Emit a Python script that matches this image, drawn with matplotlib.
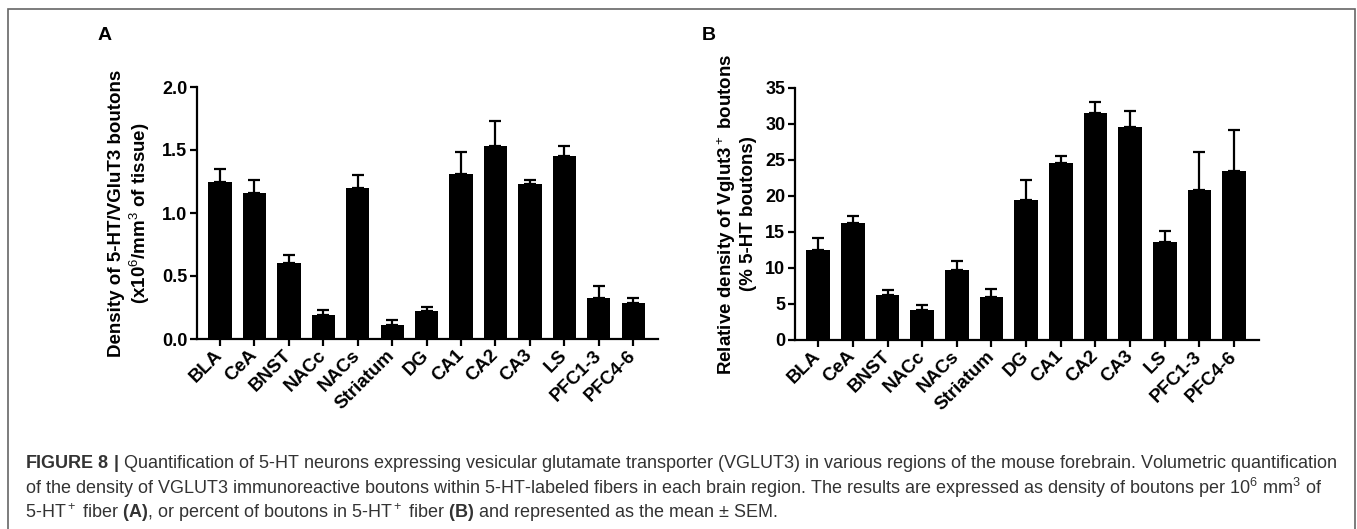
import matplotlib
matplotlib.use("Agg")
import matplotlib.pyplot as plt
from matplotlib.patches import Rectangle

plt.rcParams['font.family'] = ['Liberation Sans', 'DejaVu Sans']
plt.rcParams['mathtext.fontset'] = 'custom'
plt.rcParams['mathtext.rm'] = 'Liberation Sans'
plt.rcParams['mathtext.bf'] = 'Liberation Sans:bold'
plt.rcParams['mathtext.it'] = 'Liberation Sans:italic'

regions = ["BLA", "CeA", "BNST", "NACc", "NACs", "Striatum", "DG",
           "CA1", "CA2", "CA3", "LS", "PFC1-3", "PFC4-6"]

density_mean = [1.245, 1.158, 0.607, 0.193, 1.195, 0.113, 0.224,
                1.309, 1.528, 1.230, 1.449, 0.327, 0.285]
density_sem = [0.101, 0.106, 0.061, 0.039, 0.103, 0.037, 0.032,
               0.174, 0.200, 0.029, 0.079, 0.093, 0.037]

relative_mean = [12.45, 16.21, 6.29, 4.18, 9.69, 5.97, 19.48,
                 24.53, 31.56, 29.54, 13.60, 20.90, 23.52]
relative_sem = [1.65, 0.97, 0.69, 0.74, 1.24, 1.06, 2.80,
                1.01, 1.56, 2.20, 1.56, 5.28, 5.60]

yticks_a = [0.0, 0.5, 1.0, 1.5, 2.0]
yticks_b = [0, 5, 10, 15, 20, 25, 30, 35]

W, H = 1357, 529
fig = plt.figure(figsize=(W / 100, H / 100), dpi=100)

def fx(px):
    return px / W

def fy(py):
    return 1 - py / H

# figure border
fig.patches.append(Rectangle((fx(8), fy(600)), fx(1347), fy(9) - fy(600),
                             transform=fig.transFigure, fill=False,
                             edgecolor='#666666', linewidth=1.2))

axA = fig.add_axes([fx(197), fy(339), fx(658) - fx(197), fy(87) - fy(339)])
axB = fig.add_axes([fx(795), fy(340), fx(1259) - fx(795), fy(88) - fy(340)])

def style(ax, means, sems, yticks, fmt):
    x = list(range(len(regions)))
    ax.bar(x, means, width=0.68, color='black', edgecolor='none', zorder=2)
    ax.errorbar(x, means, yerr=[[0] * len(sems), sems], fmt='none',
                ecolor='black', elinewidth=1.6, capsize=4.2, capthick=1.6,
                zorder=1)
    ax.set_xlim(-0.67, len(regions) - 1 + 0.72)
    ax.set_ylim(yticks[0], yticks[-1])
    ax.set_yticks(yticks)
    ax.set_yticklabels([fmt.format(v) for v in yticks])
    ax.set_xticks(x)
    ax.set_xticklabels(regions, rotation=45, ha='right', va='center',
                       rotation_mode='anchor', fontweight='bold', fontsize=13.5)
    for lab in ax.get_yticklabels():
        lab.set_fontweight('bold')
        lab.set_fontsize(13)
    for s in ['top', 'right']:
        ax.spines[s].set_visible(False)
    for s in ['left', 'bottom']:
        ax.spines[s].set_linewidth(1.6)
    ax.tick_params(axis='both', length=5, width=1.6, direction='out')
    ax.tick_params(axis='x', pad=5)
    ax.tick_params(axis='y', pad=2)

style(axA, density_mean, density_sem, yticks_a, "{:.1f}")
style(axB, relative_mean, relative_sem, yticks_b, "{:d}")

fig.text(fx(130), fy(213), "Density of 5-HT/VGluT3 boutons\n(x10$^6$/mm$^3$ of tissue)",
         rotation=90, ha='center', va='center', multialignment='center',
         fontsize=13.5, fontweight='bold', linespacing=1.2)
fig.text(fx(736), fy(214), "Relative density of Vglut3$^+$ boutons\n(% 5-HT boutons)",
         rotation=90, ha='center', va='center', multialignment='center',
         fontsize=13.5, fontweight='bold', linespacing=1.2)

fig.text(fx(105), fy(35), "A", ha='center', va='center', fontsize=14, fontweight='bold')
fig.text(fx(709), fy(36), "B", ha='center', va='center', fontsize=14, fontweight='bold')

cap_color = '#333333'
lines = [
    r"$\mathbf{FIGURE\ 8\ |}$ Quantification of 5-HT neurons expressing vesicular glutamate transporter (VGLUT3) in various regions of the mouse forebrain. Volumetric quantification",
    r"of the density of VGLUT3 immunoreactive boutons within 5-HT-labeled fibers in each brain region. The results are expressed as density of boutons per 10$^6$ mm$^3$ of",
    r"5-HT$^+$ fiber $\mathbf{(A)}$, or percent of boutons in 5-HT$^+$ fiber $\mathbf{(B)}$ and represented as the mean $\pm$ SEM.",
]
ys = [463, 488, 513]
fs = 11.0
t0 = fig.text(fx(25), fy(ys[0]), lines[0], ha='left', va='center', fontsize=fs, color=cap_color)
fig.canvas.draw()
r = fig.canvas.get_renderer()
w = t0.get_window_extent(r).width
target = 1333 - 25
fs = fs * target / w
t0.set_fontsize(fs)
for ln, y in zip(lines[1:], ys[1:]):
    fig.text(fx(25), fy(y), ln, ha='left', va='center', fontsize=fs, color=cap_color)

fig.savefig("out.png", dpi=100)
